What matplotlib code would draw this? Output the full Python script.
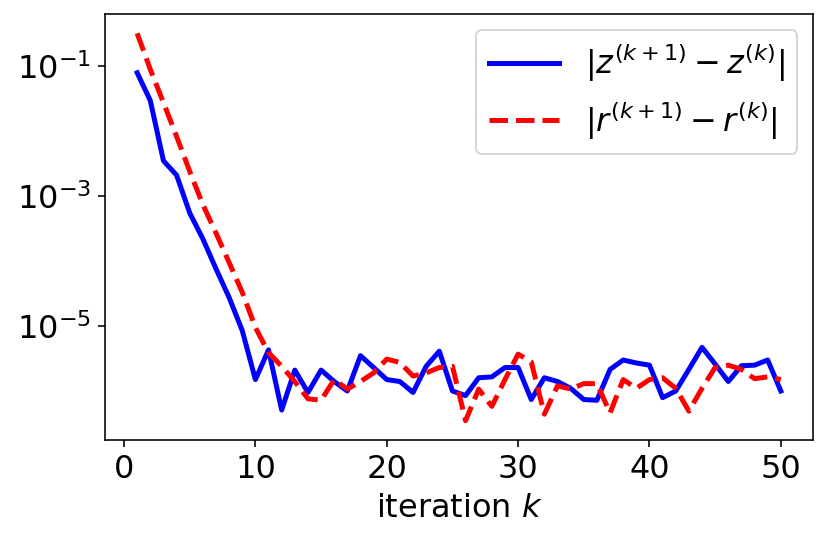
import matplotlib
matplotlib.use("Agg")
import matplotlib.pyplot as plt
import numpy as np

plt.rcParams['font.size'] = 16

# iteration index
iters = np.arange(1, 51)

# |z^(k+1) - z^(k)|
z_diff = [7.9e-2, 2.95e-2, 3.5e-3, 2.1e-3, 5.5e-4, 2.2e-4, 7.6e-5, 2.75e-5, 8.5e-6, 1.5e-6,
          4.3e-6, 5.1e-7, 2.1e-6, 9.5e-7, 2.1e-6, 1.4e-6, 1.0e-6, 3.5e-6, 2.3e-6, 1.5e-6,
          1.4e-6, 9.5e-7, 2.4e-6, 4.1e-6, 1.0e-6, 8.5e-7, 1.6e-6, 1.65e-6, 2.3e-6, 2.3e-6,
          7.4e-7, 1.6e-6, 1.4e-6, 1.1e-6, 7.4e-7, 7.2e-7, 2.15e-6, 3.0e-6, 2.7e-6, 2.5e-6,
          7.9e-7, 1.0e-6, 2.15e-6, 4.7e-6, 2.6e-6, 1.4e-6, 2.45e-6, 2.5e-6, 3.0e-6, 1.0e-6]

# |r^(k+1) - r^(k)|
r_diff = [0.32, 0.089, 0.0275, 8.3e-3, 2.4e-3, 7.4e-4, 2.7e-4, 9.5e-5, 3.3e-5, 9.5e-6,
          3.9e-6, 2.4e-6, 1.4e-6, 7.6e-7, 7.2e-7, 1.5e-6, 1.07e-6, 1.4e-6, 1.9e-6, 3.1e-6,
          2.75e-6, 1.7e-6, 1.9e-6, 2.3e-6, 2.4e-6, 3.5e-7, 1.07e-6, 5.8e-7, 1.5e-6, 3.7e-6,
          2.8e-6, 4.4e-7, 1.2e-6, 1.07e-6, 1.3e-6, 1.3e-6, 4.6e-7, 1.5e-6, 1.1e-6, 1.5e-6,
          1.6e-6, 1.1e-6, 4.9e-7, 1.1e-6, 2.3e-6, 2.5e-6, 2.15e-6, 1.55e-6, 1.65e-6, 1.5e-6]

fig = plt.figure(figsize=(830 / 144, 540 / 144), dpi=144)
ax = fig.add_axes([105 / 830, 1 - 440 / 540, 708 / 830, 426 / 540])

ax.plot(iters, z_diff, color='blue', lw=2.5, label=r'$|z^{(k+1)} - z^{(k)}|$')
ax.plot(iters, r_diff, color='red', lw=2.5, ls='--', label=r'$|r^{(k+1)} - r^{(k)}|$')

ax.set_yscale('log')
ax.set_yticks([1e-1, 1e-3, 1e-5])
ax.yaxis.set_minor_locator(matplotlib.ticker.NullLocator())
ax.set_xticks([0, 10, 20, 30, 40, 50])
ax.set_xlabel(r'iteration $k$')

ax.legend(loc='upper right', fontsize=16, handlelength=2.2)

fig.savefig('out.png', dpi=144)
